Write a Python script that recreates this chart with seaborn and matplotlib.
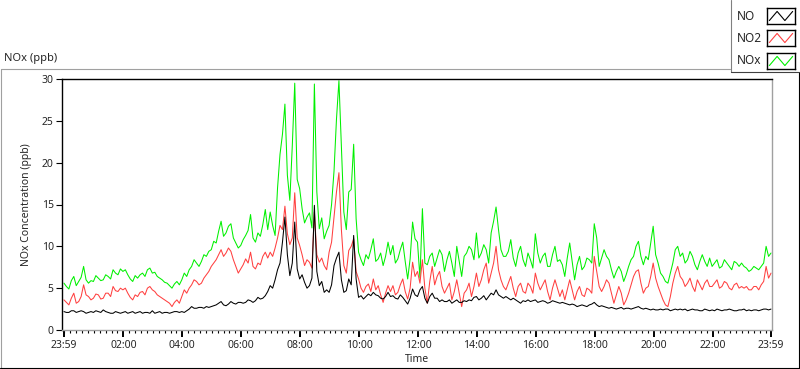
import numpy as np
import pandas as pd
import seaborn as sns
import matplotlib.pyplot as plt
from matplotlib.lines import Line2D

sns.set_theme(style='white')
plt.rcParams['font.family'] = ['Noto Sans', 'DejaVu Sans']

# minutes since 23:59, one reading every 5 minutes (one row per hour)
minutes = np.arange(0, 1441, 5)

nox = [5.6, 5.2, 4.9, 5.9, 6.4, 5.3, 5.8, 6.3, 7.6, 6.0, 5.6, 5.9,
       5.8, 6.5, 6.2, 5.9, 6.0, 6.6, 6.4, 6.1, 7.2, 6.8, 6.6, 7.3,
       7.0, 7.2, 6.6, 6.1, 5.8, 6.5, 6.2, 6.6, 6.8, 6.4, 7.2, 7.4,
       6.8, 6.9, 6.4, 6.2, 6.0, 5.7, 5.6, 5.3, 5.0, 5.5, 5.8, 5.4,
       6.0, 6.8, 6.4, 7.2, 7.6, 8.4, 8.0, 7.6, 8.2, 9.0, 8.8, 9.4,
       9.6, 10.6, 10.4, 11.8, 13.0, 11.2, 11.6, 12.4, 12.7, 11.0, 10.4, 9.8,
       10.1, 10.8, 11.3, 11.9, 13.8, 11.0, 10.5, 11.6, 11.2, 12.6, 14.4, 12.0,
       14.1, 12.5, 11.3, 17.0, 21.0, 23.4, 27.0, 18.5, 15.5, 22.0, 29.5, 18.0,
       16.9, 14.5, 12.8, 13.5, 14.0, 12.2, 29.4, 16.5, 12.1, 13.4, 10.9, 11.8,
       12.5, 15.0, 19.0, 25.2, 29.8, 22.0, 14.1, 12.0, 16.5, 16.8, 22.2, 13.3,
       9.3, 8.4, 7.7, 9.0, 8.5, 9.6, 10.9, 8.2, 8.5, 9.2, 7.7, 8.8,
       10.5, 9.0, 10.1, 8.0, 8.5, 9.6, 10.5, 8.2, 6.1, 8.5, 12.9, 10.9,
       10.5, 6.2, 14.5, 8.0, 7.8, 8.8, 9.2, 7.6, 8.6, 9.6, 9.0, 7.0,
       8.4, 9.4, 8.0, 6.4, 10.0, 8.2, 6.4, 8.8, 9.2, 10.0, 9.6, 8.4,
       11.6, 8.6, 9.2, 10.2, 9.6, 8.0, 11.6, 13.0, 14.7, 12.0, 9.6, 8.8,
       8.8, 9.4, 10.8, 8.6, 7.6, 9.2, 10.0, 8.4, 7.6, 9.2, 8.4, 7.4,
       11.5, 9.2, 8.0, 8.8, 9.2, 7.6, 7.6, 9.0, 10.0, 8.2, 8.4, 7.8,
       6.4, 8.6, 10.4, 8.2, 6.0, 7.8, 8.8, 7.2, 7.6, 8.6, 8.4, 8.0,
       12.7, 11.0, 7.6, 8.6, 9.6, 8.8, 8.4, 7.2, 6.2, 7.0, 7.6, 7.0,
       5.8, 6.6, 7.6, 8.4, 8.8, 10.0, 10.6, 8.8, 7.8, 8.8, 8.4, 10.4,
       12.4, 9.0, 8.0, 6.8, 6.4, 5.8, 5.6, 6.8, 8.0, 9.6, 10.0, 8.8,
       9.2, 8.0, 8.4, 9.4, 8.8, 7.8, 7.2, 8.2, 9.0, 8.2, 7.6, 8.6,
       7.6, 8.0, 8.4, 7.4, 7.6, 8.4, 8.0, 7.6, 7.2, 8.2, 8.0, 7.6,
       8.0, 7.6, 7.4, 7.0, 7.2, 7.6, 7.4, 7.2, 7.6, 8.0, 10.0, 8.8,
       9.2]

no2 = [3.6, 3.3, 3.0, 3.8, 4.4, 3.2, 3.4, 4.0, 5.4, 4.2, 4.0, 3.6,
       3.8, 4.3, 4.2, 3.7, 3.8, 4.4, 4.4, 4.0, 5.2, 4.7, 4.6, 5.0,
       4.8, 5.0, 4.4, 3.9, 3.6, 4.2, 4.0, 4.5, 4.6, 4.2, 5.0, 5.2,
       4.8, 4.6, 4.2, 4.0, 3.8, 3.6, 3.4, 3.2, 2.8, 3.3, 3.6, 3.2,
       4.0, 4.8, 4.4, 5.0, 5.4, 6.0, 5.8, 5.4, 5.6, 6.2, 6.6, 7.0,
       7.6, 8.0, 8.4, 9.0, 9.6, 8.8, 9.2, 9.8, 9.4, 8.4, 7.6, 6.8,
       7.3, 7.8, 8.5, 8.0, 9.3, 7.6, 7.3, 8.0, 7.8, 8.8, 9.3, 8.6,
       9.3, 8.8, 9.8, 11.0, 12.5, 12.0, 14.8, 11.5, 10.2, 11.0, 16.4, 11.0,
       10.1, 9.0, 7.7, 8.4, 8.1, 7.4, 14.1, 9.0, 8.1, 8.6, 7.7, 7.2,
       9.3, 10.5, 13.5, 16.5, 18.8, 12.0, 7.7, 6.8, 9.5, 10.0, 10.9, 7.0,
       6.1, 5.0, 4.5, 5.2, 5.5, 4.6, 6.1, 4.8, 5.3, 4.2, 3.3, 4.4,
       5.3, 4.6, 5.3, 4.2, 4.5, 5.4, 6.1, 4.6, 3.7, 5.0, 8.1, 6.4,
       7.0, 5.6, 8.4, 5.0, 3.2, 5.8, 7.6, 5.4, 6.4, 7.0, 5.2, 4.4,
       5.0, 5.6, 3.6, 4.6, 6.0, 4.4, 2.8, 4.4, 4.8, 5.6, 4.0, 5.2,
       6.8, 5.2, 6.0, 7.2, 8.0, 5.6, 6.8, 8.0, 10.0, 7.2, 6.0, 5.2,
       4.8, 5.6, 6.4, 5.0, 4.0, 5.2, 5.6, 4.6, 4.4, 5.6, 5.2, 4.4,
       6.8, 5.6, 4.8, 5.4, 6.0, 4.6, 3.6, 5.0, 6.0, 5.0, 4.0, 4.8,
       3.6, 4.8, 6.0, 4.8, 3.6, 4.6, 5.2, 4.2, 4.0, 5.0, 4.8, 4.4,
       8.8, 7.0, 5.2, 4.6, 5.2, 6.0, 5.6, 4.4, 3.2, 4.2, 5.2, 4.4,
       3.0, 3.6, 4.4, 5.4, 6.4, 7.0, 7.2, 5.6, 4.4, 5.0, 5.2, 6.4,
       8.0, 6.2, 5.2, 4.4, 3.6, 3.0, 2.8, 4.0, 5.6, 6.8, 7.6, 6.4,
       6.0, 5.2, 5.6, 6.2, 5.2, 4.6, 6.0, 5.4, 4.8, 5.6, 6.0, 5.2,
       5.2, 5.6, 6.0, 5.0, 5.2, 5.8, 5.6, 5.0, 4.8, 5.4, 5.6, 5.0,
       5.2, 5.0, 5.2, 4.8, 4.8, 5.2, 5.2, 4.8, 5.4, 5.8, 7.6, 6.2,
       6.8]

no = [2.2, 2.1, 2.1, 2.3, 2.3, 2.1, 2.2, 2.3, 2.2, 2.0, 2.1, 2.2,
      2.1, 2.3, 2.2, 2.1, 2.4, 2.2, 2.1, 2.0, 2.0, 2.2, 2.1, 2.0,
      2.1, 2.2, 2.0, 2.1, 2.2, 2.0, 2.1, 2.2, 2.0, 2.1, 2.1, 2.0,
      2.3, 2.0, 2.1, 2.2, 2.0, 2.1, 2.1, 2.0, 2.1, 2.2, 2.2, 2.1,
      2.2, 2.1, 2.3, 2.5, 2.8, 2.6, 2.6, 2.7, 2.7, 2.6, 2.8, 2.7,
      2.8, 2.9, 3.0, 3.2, 3.4, 3.0, 2.9, 3.1, 3.4, 3.2, 3.1, 3.3,
      3.3, 3.2, 3.3, 3.6, 3.5, 3.3, 3.5, 3.9, 3.7, 3.8, 4.1, 4.6,
      5.3, 5.0, 6.0, 7.2, 8.0, 10.5, 13.5, 9.0, 6.5, 8.0, 12.9, 7.3,
      6.1, 6.6, 5.7, 5.0, 5.3, 6.2, 14.9, 7.0, 5.3, 5.8, 4.5, 4.8,
      4.5, 5.4, 7.7, 8.6, 9.3, 6.0, 4.5, 4.7, 6.1, 5.4, 11.3, 6.1,
      3.9, 4.1, 3.7, 4.0, 4.3, 4.1, 4.5, 4.2, 4.1, 3.8, 3.7, 4.0,
      4.5, 4.0, 4.1, 3.8, 3.7, 4.2, 3.9, 3.5, 3.1, 3.8, 4.9, 4.2,
      4.0, 4.8, 5.2, 3.8, 3.2, 4.0, 4.4, 3.8, 3.8, 3.4, 3.6, 3.4,
      3.4, 3.6, 3.2, 3.4, 3.6, 3.3, 3.3, 3.5, 3.4, 3.6, 3.5, 3.9,
      4.0, 3.6, 3.8, 4.1, 3.6, 4.0, 4.4, 4.2, 4.8, 4.2, 4.0, 3.8,
      4.0, 3.8, 3.6, 3.8, 3.6, 3.4, 3.2, 3.5, 3.4, 3.6, 3.4, 3.5,
      3.6, 3.3, 3.4, 3.5, 3.4, 3.2, 3.3, 3.5, 3.4, 3.3, 3.2, 3.3,
      3.2, 3.1, 3.0, 3.1, 3.0, 2.8, 2.9, 3.0, 2.9, 2.8, 3.0, 3.1,
      3.3, 3.0, 2.8, 2.9, 2.8, 2.7, 2.6, 2.7, 2.6, 2.5, 2.6, 2.7,
      2.5, 2.6, 2.6, 2.5, 2.6, 2.7, 2.8, 2.6, 2.5, 2.6, 2.5, 2.4,
      2.5, 2.4, 2.4, 2.5, 2.4, 2.5, 2.5, 2.3, 2.4, 2.5, 2.4, 2.5,
      2.4, 2.5, 2.3, 2.4, 2.5, 2.4, 2.4, 2.3, 2.3, 2.5, 2.4, 2.3,
      2.4, 2.3, 2.5, 2.4, 2.3, 2.4, 2.4, 2.5, 2.4, 2.3, 2.3, 2.4,
      2.4, 2.5, 2.3, 2.4, 2.3, 2.4, 2.4, 2.3, 2.4, 2.5, 2.5, 2.4,
      2.5]

gases = ['NOx', 'NO2', 'NO']
colors = {'NO': '#000000', 'NO2': '#ff4040', 'NOx': '#00f000'}
tick_minutes = [0, 121, 241, 361, 481, 601, 721, 841, 961, 1081, 1201, 1321, 1440]
tick_labels = ['23:59', '02:00', '04:00', '06:00', '08:00', '10:00', '12:00',
               '14:00', '16:00', '18:00', '20:00', '22:00', '23:59']

df = pd.DataFrame({
    'minute': np.tile(minutes, 3),
    'ppb': nox + no2 + no,
    'gas': np.repeat(gases, len(minutes)),
})

W, H = 800, 369
fig = plt.figure(figsize=(W / 100, H / 100), dpi=100)
fig.patch.set_facecolor('white')

def fx(x):
    return x / W

def fy(y):
    return 1 - y / H

ax = fig.add_axes([fx(62), fy(330), (772 - 62) / W, (330 - 79) / H])
sns.lineplot(data=df, x='minute', y='ppb', hue='gas', hue_order=gases,
             palette=colors, estimator=None, lw=0.75, legend=False, ax=ax)

ax.set_xlim(-4, 1442)
ax.set_ylim(0, 30)
ax.set_xticks(tick_minutes, tick_labels)
minor = [m for m in range(1, 1440, 12) if m not in tick_minutes]
ax.set_xticks(minor, minor=True)
ax.set_yticks(range(0, 31, 5))
ax.tick_params(axis='x', which='major', direction='out', length=5, width=1.4,
               color='black', labelsize=7.5, pad=2, bottom=True)
ax.tick_params(axis='x', which='minor', direction='out', length=2.5, width=0.8,
               color='black', bottom=True)
ax.tick_params(axis='y', direction='out', length=4, width=0.8, color='black',
               labelsize=7.5, pad=2, left=True)
for side in ['left', 'top']:
    ax.spines[side].set_color('black')
    ax.spines[side].set_linewidth(1)
for side in ['right', 'bottom']:
    ax.spines[side].set_color('#a0a0a0')
    ax.spines[side].set_linewidth(1)
ax.set_xlabel('Time', fontsize=7.5, labelpad=2)
ax.set_ylabel('NOx Concentration (ppb)', fontsize=7.5)
ax.yaxis.set_label_coords(-0.042, 0.5)
ax.grid(False)

fig.text(fx(4), fy(61), 'NOx (ppb)', fontsize=8, va='baseline', ha='left')

# outer panel frame
frame = [((0.5, 730), (68.5, 68.5), '#a0a0a0'),
         ((0.5, 0.5), (68.5, 368), '#a0a0a0'),
         ((0, 799), (367.5, 367.5), '#000000'),
         ((798.5, 798.5), (72, 368), '#000000'),
         ((730.5, 730.5), (0, 72), '#808080'),
         ((730.5, 799), (71.5, 71.5), '#404040')]
for xs, ys, c in frame:
    fig.add_artist(Line2D([fx(v) for v in xs], [fy(v) for v in ys],
                          color=c, lw=0.8, transform=fig.transFigure))

# legend
legend_rows = [(16, 'NO'), (38, 'NO2'), (61, 'NOx')]
for yc, name in legend_rows:
    fig.text(fx(737), fy(yc), name, fontsize=8.5, va='center', ha='left')
    sw = fig.add_axes([fx(767), fy(yc + 8), 28 / W, 16 / H])
    sw.plot([0, 1, 2, 3], [0.1, 0.9, 0.1, 0.9], color=colors[name], lw=0.8)
    sw.set_xlim(-0.3, 3.3)
    sw.set_ylim(-0.2, 1.2)
    sw.set_xticks([])
    sw.set_yticks([])
    for s in sw.spines.values():
        s.set_color('black')
        s.set_linewidth(1)

fig.savefig('out.png', dpi=100)
